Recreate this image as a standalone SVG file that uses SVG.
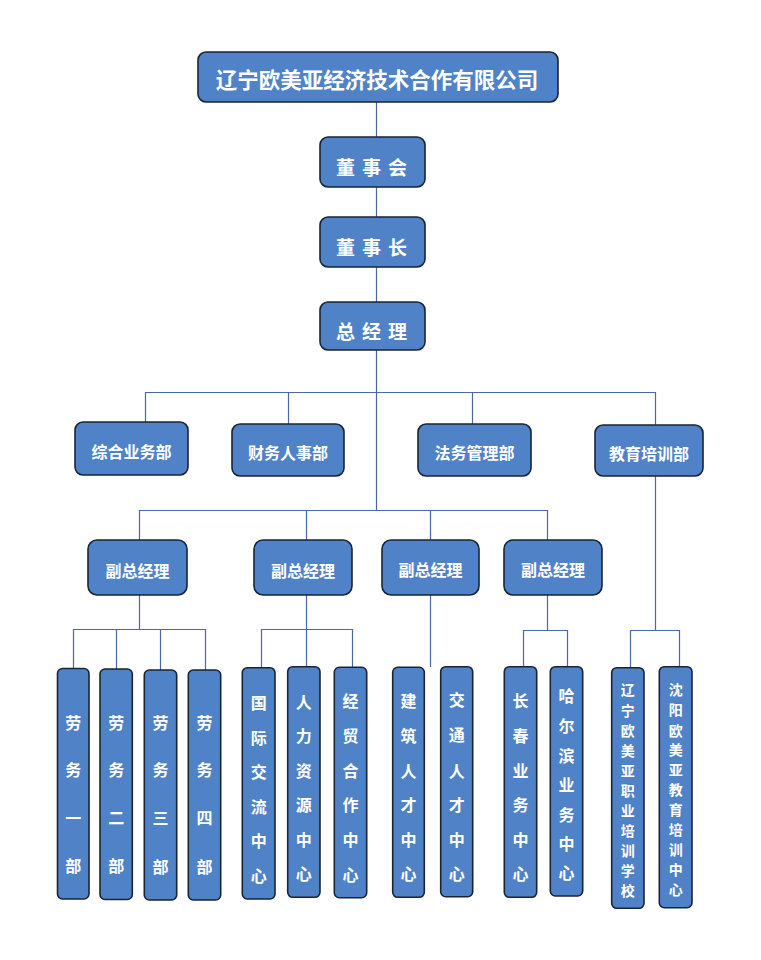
<svg xmlns="http://www.w3.org/2000/svg" width="761" height="960" viewBox="0 0 761 960">
<style>
.box{fill:#4f82c6;stroke:#1b2436;stroke-width:1.6}
.t{fill:#ffffff;font-family:"Noto Sans CJK SC","Microsoft YaHei",sans-serif;font-weight:bold;text-anchor:middle;dominant-baseline:central}
.conn{fill:none;stroke:#4a68a8;stroke-width:1.2}
</style>
<rect width="761" height="960" fill="#ffffff"/>
<g id="connectors" class="conn">
<path d="M376.5 102V137M376.5 187V217M376.5 267V302M376.5 350V510"/>
<path d="M145.5 422V392.5H655.5V425M288.5 392.5V424M472.5 392.5V424"/>
<path d="M655.5 476V630.5M630.5 668V630.5H679.5V667"/>
<path d="M139.5 540V510.5H547.5V540M306.5 510.5V540M430.5 510.5V540"/>
<path d="M139.5 595V629.5M73.5 668V629.5H205.5V670M116.5 629.5V669M160.5 629.5V670"/>
<path d="M306.5 595V629.5M261.5 668V629.5H352.5V667M306.5 629.5V667"/>
<path d="M430.5 595V667"/>
<path d="M547.5 595V630.5M523.5 667V630.5H567.5V667"/>
</g>
<g id="company"><rect class="box" x="198" y="52" width="360" height="50" rx="8"/><text class="t" x="377" y="78" font-size="21.5">辽宁欧美亚经济技术合作有限公司</text></g>
<g id="board"><rect class="box" x="320" y="137" width="105" height="50" rx="8"/><text class="t" x="375" y="166" font-size="19" letter-spacing="7">董事会</text></g>
<g id="chairman"><rect class="box" x="320" y="217" width="105" height="50" rx="8"/><text class="t" x="375" y="246" font-size="19" letter-spacing="7">董事长</text></g>
<g id="gm"><rect class="box" x="320" y="302" width="105" height="48" rx="8"/><text class="t" x="375" y="330" font-size="19" letter-spacing="7">总经理</text></g>
<g id="dept1"><rect class="box" x="75" y="422" width="113" height="53" rx="8"/><text class="t" x="131.5" y="451" font-size="16">综合业务部</text></g>
<g id="dept2"><rect class="box" x="232" y="424" width="112" height="52" rx="8"/><text class="t" x="288" y="452" font-size="16">财务人事部</text></g>
<g id="dept3"><rect class="box" x="418" y="424" width="113" height="52" rx="8"/><text class="t" x="474.5" y="452" font-size="16">法务管理部</text></g>
<g id="dept4"><rect class="box" x="595" y="425" width="108" height="51" rx="8"/><text class="t" x="649" y="453" font-size="16">教育培训部</text></g>
<g id="vp1"><rect class="box" x="88" y="540" width="99" height="55" rx="9"/><text class="t" x="137.5" y="570" font-size="16">副总经理</text></g>
<g id="vp2"><rect class="box" x="254" y="540" width="98" height="55" rx="9"/><text class="t" x="303" y="570" font-size="16">副总经理</text></g>
<g id="vp3"><rect class="box" x="382" y="540" width="97" height="55" rx="9"/><text class="t" x="430.5" y="569" font-size="16">副总经理</text></g>
<g id="vp4"><rect class="box" x="504" y="540" width="98" height="55" rx="9"/><text class="t" x="553" y="569" font-size="16">副总经理</text></g>
<g id="l1"><rect class="box" x="57.5" y="668.5" width="31.5" height="230.5" rx="5"/><text class="t" font-size="16"><tspan x="73.3" y="721.5">劳</tspan><tspan x="73.3" y="768.5">务</tspan><tspan x="73.3" y="816.5">一</tspan><tspan x="73.3" y="865">部</tspan></text></g>
<g id="l2"><rect class="box" x="100" y="669" width="32.3" height="230.5" rx="5"/><text class="t" font-size="16"><tspan x="116.2" y="721.5">劳</tspan><tspan x="116.2" y="768.5">务</tspan><tspan x="116.2" y="816.5">二</tspan><tspan x="116.2" y="865">部</tspan></text></g>
<g id="l3"><rect class="box" x="144.3" y="670" width="32.4" height="230" rx="5"/><text class="t" font-size="16"><tspan x="160.5" y="722">劳</tspan><tspan x="160.5" y="769">务</tspan><tspan x="160.5" y="817">三</tspan><tspan x="160.5" y="866">部</tspan></text></g>
<g id="l4"><rect class="box" x="188.3" y="670" width="32.4" height="230" rx="5"/><text class="t" font-size="16"><tspan x="204.5" y="722">劳</tspan><tspan x="204.5" y="769">务</tspan><tspan x="204.5" y="817">四</tspan><tspan x="204.5" y="866">部</tspan></text></g>
<g id="l5"><rect class="box" x="242.3" y="667.7" width="32.7" height="231.3" rx="5"/><text class="t" font-size="16"><tspan x="258.7" y="701.5">国</tspan><tspan x="258.7" y="736.5">际</tspan><tspan x="258.7" y="770.5">交</tspan><tspan x="258.7" y="805.5">流</tspan><tspan x="258.7" y="840">中</tspan><tspan x="258.7" y="874.5">心</tspan></text></g>
<g id="l6"><rect class="box" x="287.7" y="666.7" width="32.3" height="230.6" rx="5"/><text class="t" font-size="16"><tspan x="303.8" y="701">人</tspan><tspan x="303.8" y="735">力</tspan><tspan x="303.8" y="769.5">资</tspan><tspan x="303.8" y="804">源</tspan><tspan x="303.8" y="838.5">中</tspan><tspan x="303.8" y="873">心</tspan></text></g>
<g id="l7"><rect class="box" x="334.3" y="667.3" width="32.4" height="230.4" rx="5"/><text class="t" font-size="16"><tspan x="350.5" y="700">经</tspan><tspan x="350.5" y="735">贸</tspan><tspan x="350.5" y="770">合</tspan><tspan x="350.5" y="804">作</tspan><tspan x="350.5" y="838.5">中</tspan><tspan x="350.5" y="873.5">心</tspan></text></g>
<g id="l8"><rect class="box" x="392.7" y="667.3" width="31.6" height="230" rx="5"/><text class="t" font-size="16"><tspan x="408.5" y="700">建</tspan><tspan x="408.5" y="735">筑</tspan><tspan x="408.5" y="770">人</tspan><tspan x="408.5" y="804">才</tspan><tspan x="408.5" y="839">中</tspan><tspan x="408.5" y="873">心</tspan></text></g>
<g id="l9"><rect class="box" x="440.7" y="666.7" width="32" height="230" rx="5"/><text class="t" font-size="16"><tspan x="456.7" y="698.5">交</tspan><tspan x="456.7" y="733.5">通</tspan><tspan x="456.7" y="770">人</tspan><tspan x="456.7" y="804">才</tspan><tspan x="456.7" y="838.5">中</tspan><tspan x="456.7" y="873">心</tspan></text></g>
<g id="l10"><rect class="box" x="504.3" y="666.7" width="32.4" height="230.6" rx="5"/><text class="t" font-size="16"><tspan x="520.5" y="700">长</tspan><tspan x="520.5" y="735">春</tspan><tspan x="520.5" y="770">业</tspan><tspan x="520.5" y="804">务</tspan><tspan x="520.5" y="838.5">中</tspan><tspan x="520.5" y="873">心</tspan></text></g>
<g id="l11"><rect class="box" x="550.3" y="666.7" width="32.4" height="229.3" rx="5"/><text class="t" font-size="16"><tspan x="566.5" y="695">哈</tspan><tspan x="566.5" y="725">尔</tspan><tspan x="566.5" y="755">滨</tspan><tspan x="566.5" y="783.5">业</tspan><tspan x="566.5" y="813.5">务</tspan><tspan x="566.5" y="843">中</tspan><tspan x="566.5" y="872">心</tspan></text></g>
<g id="l12"><rect class="box" x="611.7" y="667.7" width="32.3" height="240.6" rx="5"/><text class="t" font-size="14"><tspan x="627.8" y="688.5">辽</tspan><tspan x="627.8" y="709.5">宁</tspan><tspan x="627.8" y="730">欧</tspan><tspan x="627.8" y="749.5">美</tspan><tspan x="627.8" y="769.5">亚</tspan><tspan x="627.8" y="789.5">职</tspan><tspan x="627.8" y="809.5">业</tspan><tspan x="627.8" y="829.5">培</tspan><tspan x="627.8" y="849.5">训</tspan><tspan x="627.8" y="869.5">学</tspan><tspan x="627.8" y="889.5">校</tspan></text></g>
<g id="l13"><rect class="box" x="659.3" y="666.7" width="32.7" height="241" rx="5"/><text class="t" font-size="14"><tspan x="675.7" y="688.5">沈</tspan><tspan x="675.7" y="709">阳</tspan><tspan x="675.7" y="729.5">欧</tspan><tspan x="675.7" y="748.5">美</tspan><tspan x="675.7" y="768.5">亚</tspan><tspan x="675.7" y="788.5">教</tspan><tspan x="675.7" y="808.5">育</tspan><tspan x="675.7" y="828.5">培</tspan><tspan x="675.7" y="848.5">训</tspan><tspan x="675.7" y="868.5">中</tspan><tspan x="675.7" y="888.5">心</tspan></text></g>
</svg>
